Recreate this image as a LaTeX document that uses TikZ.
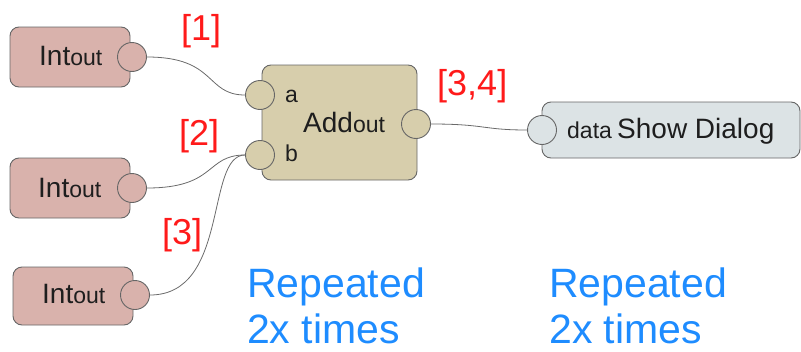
\documentclass[tikz,border=0pt]{standalone}
\usepackage{fontspec}
\setmainfont{Liberation Sans}
\definecolor{edgegrey}{HTML}{666666}
\definecolor{wiregrey}{HTML}{6A6A6A}
\definecolor{intfill}{HTML}{D9B2AC}
\definecolor{addfill}{HTML}{D7CEAC}
\definecolor{dlgfill}{HTML}{DCE3E5}
\definecolor{reflabel}{HTML}{FF1A1A}
\definecolor{noteblue}{HTML}{1E8CFF}
\definecolor{txt}{HTML}{1E1E1E}
\begin{document}
\begin{tikzpicture}[x=1pt,y=-1pt,
  box/.style={draw=edgegrey, line width=0.9pt, rounded corners=9pt, inner sep=0},
  port/.style={circle, draw=edgegrey, line width=0.9pt, minimum size=29pt, inner sep=0},
  wire/.style={draw=wiregrey, line width=0.8pt},
  lbl/.style={inner sep=0, anchor=base west, text=txt},
  big/.style={font=\fontsize{28}{28}\selectfont},
  small/.style={font=\fontsize{23}{23}\selectfont},
  refl/.style={inner sep=0, anchor=base west, text=reflabel, font=\fontsize{36}{36}\selectfont},
  note/.style={inner sep=0, anchor=base west, text=noteblue, font=\fontsize{41}{46}\selectfont, align=left}
]
\useasboundingbox (0,0) rectangle (801,351);

% boxes
\node[box, fill=intfill, minimum width=120pt, minimum height=60pt] (i1) at (70,57) {};
\node[box, fill=intfill, minimum width=120pt, minimum height=60pt] (i2) at (70,188) {};
\node[box, fill=intfill, minimum width=120pt, minimum height=58pt] (i3) at (73,296) {};
\node[box, fill=addfill, minimum width=155pt, minimum height=115pt] (add) at (339.5,122.5) {};
\node[box, fill=dlgfill, minimum width=258pt, minimum height=56pt] (dlg) at (671,130) {};

% ports
\node[port, fill=intfill] (p1) at (132,57) {};
\node[port, fill=intfill] (p2) at (132,188) {};
\node[port, fill=intfill] (p3) at (135,295) {};
\node[port, fill=addfill] (pa) at (260,95) {};
\node[port, fill=addfill] (pb) at (260,155) {};
\node[port, fill=addfill] (pout) at (416,124) {};
\node[port, fill=dlgfill] (pdata) at (542,130) {};

% texts in nodes
\node[lbl, big] (t1) at (39,65) {Int\fontsize{23}{23}\selectfont out};
\node[lbl, big] (t2) at (38,197) {Int\fontsize{23}{23}\selectfont out};
\node[lbl, big] (t3) at (42,303) {Int\fontsize{23}{23}\selectfont out};
\node[lbl, small] (ta) at (285,102) {a};
\node[lbl, small] (tb) at (285,161) {b};
\node[lbl, big] (tadd) at (303,132) {Add\fontsize{23}{23}\selectfont out};
\node[lbl, small] (tdata) at (567,138) {data};
\node[lbl, big] (tdlg) at (617,138) {Show Dialog};

% wires
\draw[wire] (p1.east) .. controls +(70,0) and +(-40,0) .. (pa.west);
\draw[wire] (p2.east) .. controls +(70,0) and +(-40,0) .. (pb.west);
\draw[wire] (p3.east) .. controls +(80,0) and +(-40,0) .. (pb.west);
\draw[wire] (pout.east) .. controls +(55,0) and +(-45,0) .. (pdata.west);

% red reference labels
\node[refl] (r1) at (181,40) {[1]};
\node[refl] (r2) at (179,145) {[2]};
\node[refl] (r3) at (162,244) {[3]};
\node[refl] (r34) at (437,95) {[3,4]};

% notes
\node[note] (n1) at (247,343) {Repeated\\2x times};
\node[note] (n2) at (549,343) {Repeated\\2x times};
\end{tikzpicture}
\end{document}
